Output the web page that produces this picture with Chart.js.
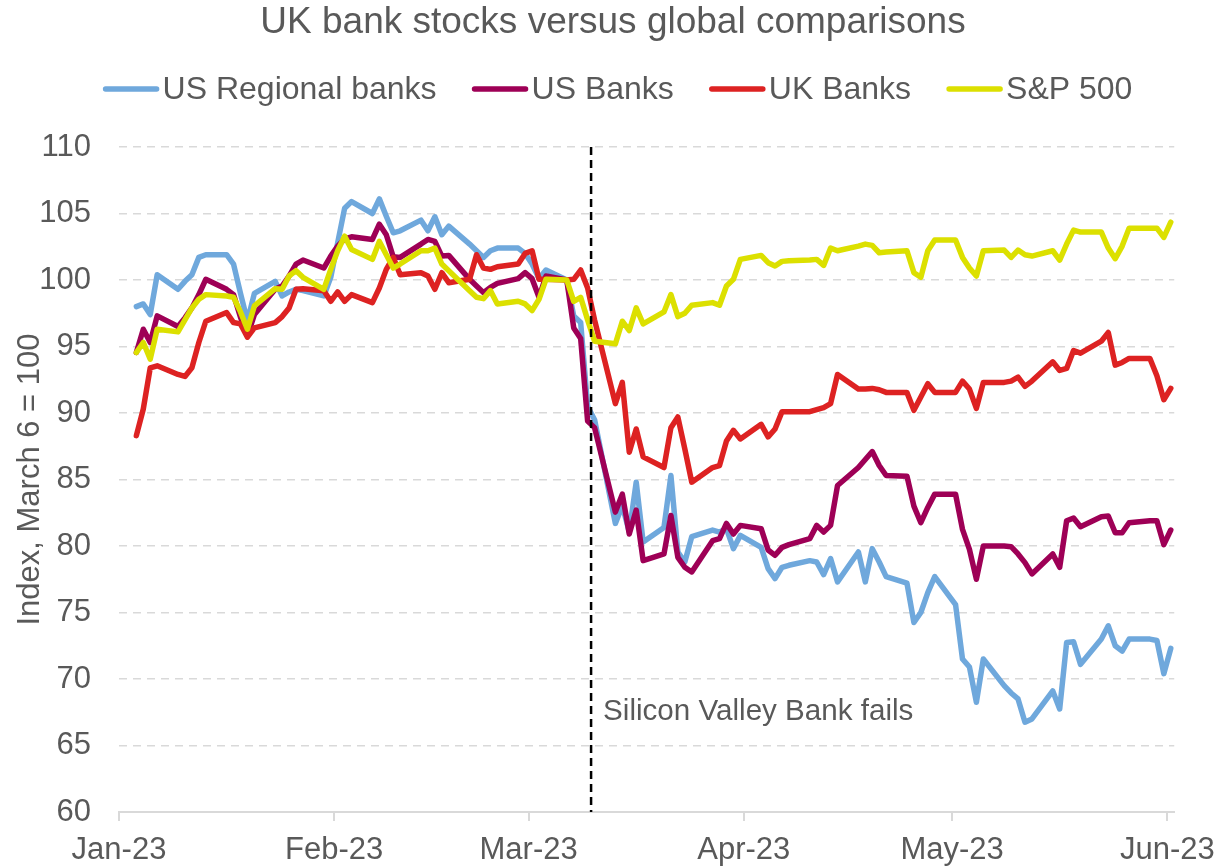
<!DOCTYPE html>
<html>
<head>
<meta charset="utf-8">
<title>UK bank stocks versus global comparisons</title>
<script src="https://cdn.jsdelivr.net/npm/chart.js@4.4.1/dist/chart.umd.min.js"></script>
<style>
    html, body { margin: 0; padding: 0; background: #fff; }
    #chart-wrap { width: 1223px; height: 867px; }
</style>
</head>
<body>
<div id="chart-wrap"><canvas id="banks-chart" width="1223" height="867"></canvas></div>
<script>
// =============================
// DATA
// =============================
const chartTitle = 'UK bank stocks versus global comparisons';

const dates = [
    '2023-01-03','2023-01-04','2023-01-05','2023-01-06','2023-01-09','2023-01-10','2023-01-11','2023-01-12','2023-01-13',
    '2023-01-16','2023-01-17','2023-01-18','2023-01-19','2023-01-20','2023-01-23','2023-01-24','2023-01-25','2023-01-26',
    '2023-01-27','2023-01-30','2023-01-31',
    '2023-02-01','2023-02-02','2023-02-03','2023-02-06','2023-02-07','2023-02-08','2023-02-09','2023-02-10','2023-02-13',
    '2023-02-14','2023-02-15','2023-02-16','2023-02-17','2023-02-20','2023-02-21','2023-02-22','2023-02-23','2023-02-24',
    '2023-02-27','2023-02-28',
    '2023-03-01','2023-03-02','2023-03-03','2023-03-06','2023-03-07','2023-03-08','2023-03-09','2023-03-10','2023-03-13',
    '2023-03-14','2023-03-15','2023-03-16','2023-03-17','2023-03-20','2023-03-21','2023-03-22','2023-03-23','2023-03-24',
    '2023-03-27','2023-03-28','2023-03-29','2023-03-30','2023-03-31',
    '2023-04-03','2023-04-04','2023-04-05','2023-04-06','2023-04-07','2023-04-10','2023-04-11','2023-04-12','2023-04-13',
    '2023-04-14','2023-04-17','2023-04-18','2023-04-19','2023-04-20','2023-04-21','2023-04-24','2023-04-25','2023-04-26',
    '2023-04-27','2023-04-28',
    '2023-05-01','2023-05-02','2023-05-03','2023-05-04','2023-05-05','2023-05-08','2023-05-09','2023-05-10','2023-05-11',
    '2023-05-12','2023-05-15','2023-05-16','2023-05-17','2023-05-18','2023-05-19','2023-05-22','2023-05-23','2023-05-24',
    '2023-05-25','2023-05-26','2023-05-29','2023-05-30','2023-05-31',
    '2023-06-01'
];

const usRegionalBanks = [
    98.0, 98.2, 97.4, 100.4, 99.3, 99.9, 100.4, 101.7, 101.9, 101.9, 101.2, 99.0, 96.9, 99.0, 99.9, 98.8, 99.1, 99.3, 99.2, 98.8, 100.2,
    102.8, 105.4, 105.9, 105.0, 106.1, 104.8, 103.55, 103.7, 104.5, 103.7, 104.75, 103.4, 104.05, 102.7, 102.2, 101.7, 102.2, 102.4, 102.4, 102.0,
    101.2, 100.1, 100.75, 100.0, 97.3, 96.8, 90.5, 89.5, 81.7, 83.05, 81.05, 84.8, 80.3, 81.4, 85.3, 79.55, 78.8, 80.7, 81.2, 81.05, 81.3, 79.8, 80.8,
    79.9, 78.3, 77.55, 78.4, 78.55, 78.9, 78.8, 77.85, 79.05, 77.3, 79.55, 77.3, 79.8, 78.8, 77.7, 77.2, 74.25, 75.0, 76.5, 77.7,
    75.6, 71.5, 70.9, 68.25, 71.5, 69.5, 68.95, 68.5, 66.75, 67.0, 69.1, 67.75, 72.75, 72.8, 71.1, 73.0, 74.0, 72.5, 72.1, 73.0, 73.0, 72.9, 70.4,
    72.3
];

const usBanks = [
    94.55, 96.3, 95.3, 97.3, 96.5, 97.15, 97.9, 98.9, 100.05, 99.3, 98.9, 97.2, 95.8, 97.4, 99.3, 99.55, 100.3, 101.2, 101.5, 100.9, 101.8,
    102.55, 103.1, 103.25, 103.05, 104.2, 103.4, 101.75, 101.7, 102.7, 103.05, 102.9, 101.8, 101.85, 100.05, 99.55, 99.05, 99.45, 99.75, 100.1, 100.55,
    100.1, 98.7, 100.3, 100.0, 96.4, 95.6, 89.4, 88.9, 82.55, 83.9, 80.9, 82.7, 78.9, 79.4, 82.3, 79.15, 78.4, 78.05, 80.4, 80.55, 81.7, 80.9, 81.55,
    81.3, 79.7, 79.3, 79.9, 80.1, 80.55, 81.55, 81.05, 81.55, 84.55, 85.9, 86.5, 87.1, 86.05, 85.3, 85.25, 83.0, 81.75, 82.9, 83.9,
    83.9, 81.25, 79.75, 77.5, 80.0, 80.0, 79.95, 79.4, 78.75, 77.9, 79.4, 78.4, 81.9, 82.1, 81.45, 82.2, 82.25, 81.0, 81.0, 81.75, 81.9, 81.9, 80.1,
    81.2
];

const ukBanks = [
    88.3, 90.3, 93.4, 93.55, 92.9, 92.75, 93.4, 95.3, 96.9, 97.55, 96.8, 96.7, 95.7, 96.4, 96.8, 97.25, 97.9, 99.3, 99.35, 99.2, 98.4,
    99.1, 98.4, 98.9, 98.3, 99.4, 100.8, 101.7, 100.4, 100.55, 100.3, 99.3, 100.55, 99.8, 100.05, 101.9, 100.9, 100.8, 101.0, 101.2, 102.0,
    102.2, 100.05, 100.05, 100.0, 100.05, 100.75, 99.4, 97.0, 90.7, 92.3, 87.05, 88.8, 86.7, 85.9, 88.9, 89.7, 87.3, 84.8, 85.9, 86.05, 87.9, 88.7, 88.05,
    89.15, 88.2, 88.8, 90.1, 90.1, 90.1, 90.25, 90.4, 90.7, 92.9, 91.8, 91.8, 91.85, 91.75, 91.55, 91.55, 90.2, 91.2, 92.2, 91.55,
    91.55, 92.4, 91.8, 90.35, 92.3, 92.3, 92.4, 92.7, 92.0, 92.4, 93.85, 93.2, 93.35, 94.7, 94.5, 95.4, 96.05, 93.6, 93.8, 94.1, 94.1, 92.8, 91.0,
    91.85
];

const sp500 = [
    94.55, 95.3, 94.05, 96.3, 96.1, 97.0, 97.9, 98.55, 98.9, 98.8, 98.7, 97.6, 96.3, 98.05, 99.35, 99.3, 100.3, 100.7, 100.2, 99.3, 100.8,
    102.2, 103.3, 102.3, 101.55, 102.9, 101.9, 100.9, 101.2, 102.2, 102.2, 102.4, 101.2, 100.7, 99.2, 98.7, 98.6, 99.2, 98.2, 98.4, 98.2,
    97.7, 98.55, 100.05, 100.0, 98.4, 98.7, 97.0, 95.4, 95.2, 96.9, 96.2, 97.9, 96.7, 97.6, 98.9, 97.25, 97.5, 98.1, 98.3, 98.1, 99.55, 100.05, 101.55,
    101.85, 101.3, 101.05, 101.4, 101.45, 101.5, 101.55, 101.1, 102.4, 102.2, 102.55, 102.7, 102.6, 102.05, 102.1, 102.2, 100.55, 100.2, 102.2, 103.0,
    103.0, 101.7, 100.9, 100.3, 102.2, 102.25, 101.7, 102.25, 101.9, 101.8, 102.2, 101.5, 102.7, 103.75, 103.6, 103.6, 102.4, 101.6, 102.55, 103.9, 103.9, 103.9, 103.2,
    104.35
];

const monthStarts = ['2023-01-01','2023-02-01','2023-03-01','2023-04-01','2023-05-01','2023-06-01'];
const monthLabels = ['Jan-23','Feb-23','Mar-23','Apr-23','May-23','Jun-23'];
const axisEndDate = '2023-06-02';

const yTicksMin = 60;
const yTicksMax = 110;
const yTickStep = 5;

const svbDate = '2023-03-10';
const svbLabel = 'Silicon Valley Bank fails';
const svbLabelLevel = 67.6;

// =============================
// STYLE
// =============================
const FONT = "'Liberation Sans', Arial, Helvetica, sans-serif";
const TEXT = '#595959';
const GRID = '#d9d9d9';
const LINE_W = 5.5;

const seriesStyle = [
    { label: 'US Regional banks', data: usRegionalBanks, color: '#6fa8dc', order: 3 },
    { label: 'US Banks',          data: usBanks,         color: '#9e0056', order: 2 },
    { label: 'UK Banks',          data: ukBanks,         color: '#dd2222', order: 1 },
    { label: 'S&P 500',           data: sp500,           color: '#dce000', order: 0 }
];

// days since 1 Jan 2023
function dayNum(s) {
    const [y, m, d] = s.split('-').map(Number);
    return (Date.UTC(y, m - 1, d) - Date.UTC(2023, 0, 1)) / 86400000;
}

// each trading day sits in the middle of its day slot
const xValues = dates.map(d => dayNum(d) + 0.5);
const monthTickValues = monthStarts.map(dayNum);

// title + line swatch legend, centred on the whole canvas
const headerPlugin = {
    id: 'header',
    afterDraw(chart) {
        const ctx = chart.ctx;
        ctx.save();
        ctx.fillStyle = TEXT;
        ctx.textBaseline = 'middle';
        ctx.textAlign = 'center';
        ctx.font = `37px ${FONT}`;
        ctx.fillText(chartTitle, 613, 23);

        const swatch = 55, gap = 4, spacing = 36, cy = 89, centerX = 618;
        ctx.font = `32px ${FONT}`;
        ctx.textAlign = 'left';
        const widths = seriesStyle.map(s => swatch + gap + ctx.measureText(s.label).width);
        const total = widths.reduce((a, b) => a + b, 0) + spacing * (widths.length - 1);
        let x = centerX - total / 2;
        seriesStyle.forEach((s, i) => {
            ctx.strokeStyle = s.color;
            ctx.lineWidth = LINE_W;
            ctx.lineCap = 'round';
            ctx.beginPath();
            ctx.moveTo(x + 2, cy);
            ctx.lineTo(x + swatch - 2, cy);
            ctx.stroke();
            ctx.fillStyle = TEXT;
            ctx.fillText(s.label, x + swatch + gap, cy + 1);
            x += widths[i] + spacing;
        });
        ctx.restore();
    }
};

// dashed marker for the SVB collapse
const svbMarker = {
    id: 'svbMarker',
    afterDatasetsDraw(chart) {
        const { ctx, chartArea, scales } = chart;
        const x = scales.x.getPixelForValue(dayNum(svbDate));
        ctx.save();
        ctx.strokeStyle = '#000';
        ctx.lineWidth = 2.5;
        ctx.setLineDash([8, 5]);
        ctx.beginPath();
        ctx.moveTo(x, chartArea.top);
        ctx.lineTo(x, chartArea.bottom);
        ctx.stroke();
        ctx.setLineDash([]);
        ctx.fillStyle = TEXT;
        ctx.font = `29.6px ${FONT}`;
        ctx.textBaseline = 'middle';
        ctx.textAlign = 'left';
        ctx.fillText(svbLabel, x + 12, scales.y.getPixelForValue(svbLabelLevel) + 1);
        ctx.restore();
    }
};

function renderChart() {
    const ctx = document.getElementById('banks-chart').getContext('2d');

    new Chart(ctx, {
        type: 'line',
        data: {
            datasets: seriesStyle.map(s => ({
                label: s.label,
                data: s.data.map((v, i) => ({ x: xValues[i], y: v })),
                borderColor: s.color,
                backgroundColor: s.color,
                borderWidth: LINE_W,
                borderJoinStyle: 'round',
                borderCapStyle: 'round',
                pointRadius: 0,
                tension: 0,
                order: s.order
            }))
        },
        plugins: [headerPlugin, svbMarker],
        options: {
            responsive: false,
            animation: false,
            events: [],
            layout: { padding: { left: 0, right: 47, top: 147, bottom: 0 } },
            scales: {
                x: {
                    type: 'linear',
                    min: 0,
                    max: dayNum(axisEndDate),
                    afterBuildTicks: (scale) => {
                        scale.ticks = monthTickValues.map(v => ({ value: v }));
                    },
                    afterFit: (scale) => { scale.height = 55; },
                    grid: {
                        drawOnChartArea: false,
                        drawTicks: true,
                        tickLength: 9,
                        color: GRID,
                        lineWidth: 2
                    },
                    border: { display: true, color: GRID, width: 2 },
                    ticks: {
                        color: TEXT,
                        font: { family: FONT, size: 31, lineHeight: 1.4 },
                        padding: 8,
                        maxRotation: 0,
                        autoSkip: false,
                        callback: (value) => {
                            const i = monthTickValues.indexOf(value);
                            return i >= 0 ? monthLabels[i] : '';
                        }
                    }
                },
                y: {
                    min: yTicksMin,
                    max: yTicksMax,
                    afterFit: (scale) => { scale.width = 119; },
                    grid: {
                        color: GRID,
                        lineWidth: 1.5,
                        drawTicks: false
                    },
                    border: { display: false, dash: [8, 6] },
                    ticks: {
                        stepSize: yTickStep,
                        color: TEXT,
                        font: { family: FONT, size: 31 },
                        padding: 28
                    },
                    title: {
                        display: true,
                        text: 'Index, March 6 = 100',
                        color: TEXT,
                        font: { family: FONT, size: 31 },
                        padding: { top: 12, bottom: 0 }
                    }
                }
            },
            plugins: {
                legend: { display: false },
                tooltip: { enabled: false },
                title: { display: false }
            }
        }
    });
}

document.addEventListener('DOMContentLoaded', renderChart);
</script>
</body>
</html>
